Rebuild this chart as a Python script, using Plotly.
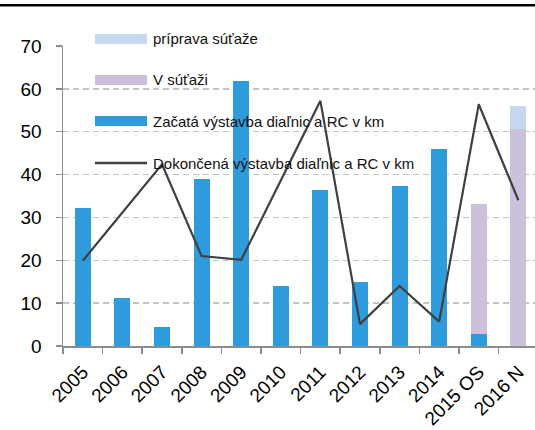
import plotly.graph_objects as go

categories = ["2005", "2006", "2007", "2008", "2009", "2010", "2011", "2012", "2013", "2014", "2015 OS", "2016 N"]
zacata = [32.3, 11.1, 4.4, 38.9, 61.8, 13.9, 36.3, 15.0, 37.3, 46.0, 2.8, 0.0]
v_sutazi = [0, 0, 0, 0, 0, 0, 0, 0, 0, 0, 30.4, 50.6]
priprava = [0, 0, 0, 0, 0, 0, 0, 0, 0, 0, 0, 5.3]
dokoncena = [19.9, 31.1, 42.4, 21.0, 20.1, 38.6, 57.2, 5.1, 14.0, 5.7, 56.4, 34.0]
yticks = [0, 10, 20, 30, 40, 50, 60, 70]

names = ["príprava súťaže", "V súťaži", "Začatá výstavba diaľnic a RC v km", "Dokončená výstavba diaľnic a RC v km"]
c_blue = "#2E9BDC"
c_purple = "#CBC1DB"
c_light = "#C6D9F0"
c_line = "#404040"

W, H = 535, 430
ML, MR, MT, MB = 63, 0, 46, 84

fig = go.Figure()
fig.add_trace(go.Bar(x=categories, y=zacata, name=names[2], marker=dict(color=c_blue, line=dict(width=0))))
fig.add_trace(go.Bar(x=categories, y=v_sutazi, name=names[1], marker=dict(color=c_purple, line=dict(width=0))))
fig.add_trace(go.Bar(x=categories, y=priprava, name=names[0], marker=dict(color=c_light, line=dict(width=0))))
fig.add_trace(go.Scatter(x=categories, y=dokoncena, name=names[3], mode="lines", line=dict(color=c_line, width=2.2)))

pw = W - ML - MR
ph = H - MT - MB
def px(x):
    return (x - ML) / pw
def py(y):
    return (H - MB - y) / ph

# manual legend
shapes = []
annotations = []
leg_y = [39, 80, 121, 163]
leg_kind = [("rect", c_light), ("rect", c_purple), ("rect", c_blue), ("line", c_line)]
for yy, (kind, col), nm in zip(leg_y, leg_kind, names):
    if kind == "rect":
        shapes.append(dict(type="rect", xref="paper", yref="paper", x0=px(95), x1=px(147),
                           y0=py(yy + 5), y1=py(yy - 5), fillcolor=col, line=dict(width=0), layer="above"))
    else:
        shapes.append(dict(type="line", xref="paper", yref="paper", x0=px(95), x1=px(147),
                           y0=py(yy), y1=py(yy), line=dict(color=col, width=2.5), layer="above"))
    annotations.append(dict(xref="paper", yref="paper", x=px(151), y=py(yy), text=nm, showarrow=False,
                            xanchor="left", yanchor="middle", font=dict(size=15, color="#111111",
                            family="Liberation Sans, Arial, sans-serif")))

# top rule
shapes.append(dict(type="rect", xref="paper", yref="paper", x0=px(0), x1=px(W), y0=py(6.5), y1=py(4),
                   fillcolor="black", line=dict(width=0), layer="above"))

fig.update_layout(
    width=W, height=H,
    margin=dict(l=ML, r=MR, t=MT, b=MB, pad=0, autoexpand=False),
    paper_bgcolor="white", plot_bgcolor="white",
    barmode="stack", bargap=0.6,
    showlegend=False,
    shapes=shapes, annotations=annotations,
    font=dict(family="Liberation Sans, Arial, sans-serif", color="black"),
    xaxis=dict(type="category", range=[-0.5, 11.42], showgrid=False, showline=True, automargin=False,
               linecolor="#8C8C8C", linewidth=1.5, ticks="outside", tickson="boundaries",
               ticklen=6, tickcolor="#8C8C8C", tickwidth=1.5, tickangle=-45,
               tickfont=dict(size=19, color="black"), ticklabelstandoff=6),
    yaxis=dict(range=[0, 70], tickvals=yticks, showgrid=True, gridcolor="#C4C4C4", gridwidth=1.5,
               griddash="6px,4px", zeroline=False, showline=True, linecolor="#8C8C8C", linewidth=1.5,
               automargin=False,
               ticks="outside", ticklen=6, tickcolor="#8C8C8C", tickwidth=1.5,
               tickfont=dict(size=19, color="black"), ticklabelstandoff=10),
)

fig.write_html("out.html", config={"displayModeBar": False, "staticPlot": True},
               post_script="document.body.style.margin='0';document.body.style.overflow='hidden';")
